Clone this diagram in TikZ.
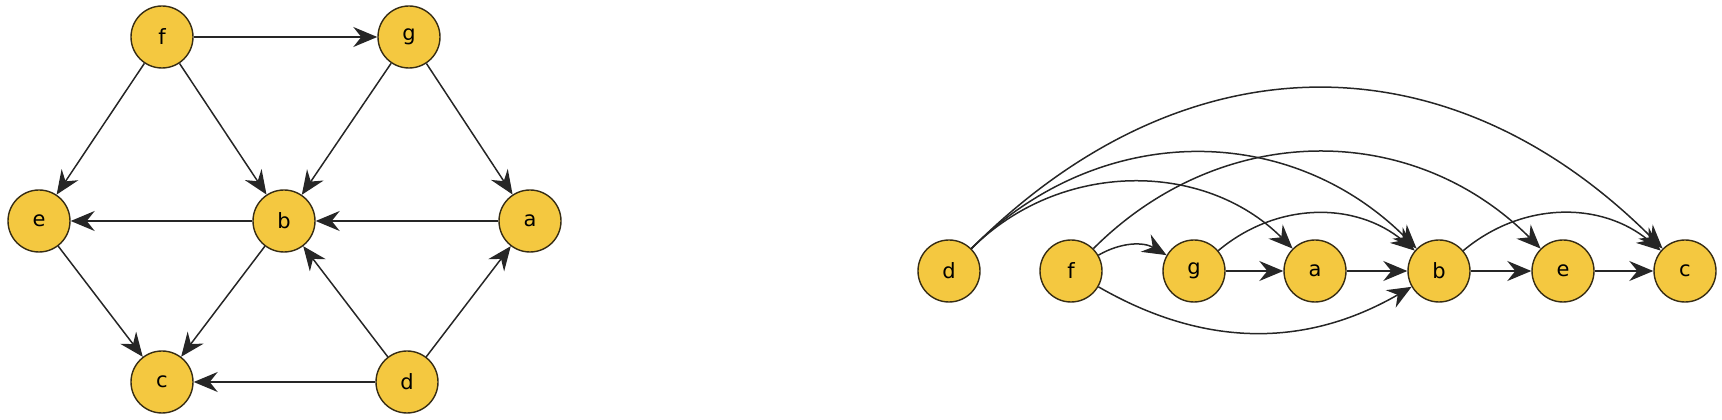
\documentclass[tikz,border=0pt]{standalone}
\usepackage{fontspec}
\setmainfont{DejaVu Sans}
\usetikzlibrary{arrows.meta}
\definecolor{vertexfill}{RGB}{244,200,64}
\definecolor{vertexline}{RGB}{55,45,20}
\begin{document}
\begin{tikzpicture}
  [x=1pt,y=1pt,every node/.style={circle,draw=vertexline,line width=1.4pt,fill=vertexfill,
   minimum size=62pt,inner sep=0pt,font=\fontsize{21}{24}\selectfont}]
  \tikzstyle{edge} = [-{Stealth[length=24pt,width=20pt,inset=8pt]},line width=1.5pt,black!85]
  \useasboundingbox (0,0) rectangle (1722,420);
  % hexagon layout
  \node (f) at (162,383) {f};
  \node (g) at (409,383) {g};
  \node (e) at (39,199)  {e};
  \node (b) at (284,199) {b};
  \node (a) at (530,199) {a};
  \node (c) at (162,38)  {c};
  \node (d) at (407,38)  {d};
\foreach \source/\dest in {f/g,f/e,f/b,g/b,g/a,b/e,a/b,e/c,b/c,d/b,d/a,d/c}
   \draw[edge] (\source) -- (\dest);
  % topological order
  \node (d2) at (949,149)  {d};
  \node (f2) at (1071,149) {f};
  \node (g2) at (1194,149) {g};
  \node (a2) at (1315,149) {a};
  \node (b2) at (1439,149) {b};
  \node (e2) at (1563,149) {e};
  \node (c2) at (1685,149) {c};
\foreach \source/\dest/\o/\i/\l in {d2/a2/45/135/1,d2/b2/45/135/1.04,d2/c2/45/135/1.12,
   f2/g2/30/150/1,f2/e2/45/135/1.04,f2/b2/-30/-150/1,g2/a2/0/180/1,g2/b2/40/140/1,
   a2/b2/0/180/1,b2/e2/0/180/1,b2/c2/40/140/1,e2/c2/0/180/1}
   \draw[edge] (\source) to[out=\o,in=\i,looseness=\l] (\dest);
\end{tikzpicture}
\end{document}
